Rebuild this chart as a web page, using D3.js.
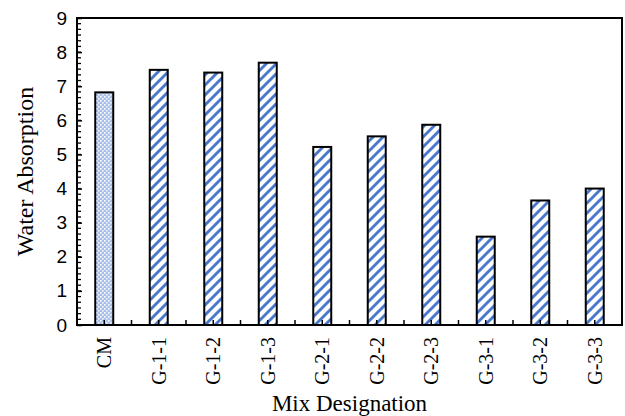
<!DOCTYPE html>
<html>
<head>
<meta charset="utf-8">
<script src="https://cdn.jsdelivr.net/npm/d3@7"></script>
<style>
  html, body { margin: 0; padding: 0; background: #fff; }
  svg { display: block; font-family: "Liberation Serif", "Times New Roman", serif; }
</style>
</head>
<body>
<svg id="chart" width="625" height="416"></svg>
<script>
// Water absorption per mix designation
const categories = ["CM", "G-1-1", "G-1-2", "G-1-3", "G-2-1", "G-2-2", "G-2-3", "G-3-1", "G-3-2", "G-3-3"];
const absorption = [6.82, 7.48, 7.40, 7.69, 5.22, 5.53, 5.87, 2.59, 3.65, 4.00];
const yTicks = [0, 1, 2, 3, 4, 5, 6, 7, 8, 9];

const margin = { left: 77, right: 3, top: 18, bottom: 91 };
const W = 625, H = 416;
const svg = d3.select("#chart");

const x = d3.scaleBand().domain(categories).range([margin.left, W - margin.right]);
const y = d3.scaleLinear().domain([0, 9]).range([H - margin.bottom, margin.top]);

// Fill patterns: light dotted cross-hatch for the control mix, diagonal stripes for the rest
const defs = svg.append("defs");
const dots = defs.append("pattern").attr("id", "dots")
  .attr("patternUnits", "userSpaceOnUse").attr("width", 4).attr("height", 4);
dots.append("rect").attr("width", 4).attr("height", 4).attr("fill", "#a8bfea");
dots.append("rect").attr("x", 0).attr("y", 0).attr("width", 1.6).attr("height", 1.6).attr("fill", "#ffffff");
dots.append("rect").attr("x", 2).attr("y", 2).attr("width", 1.6).attr("height", 1.6).attr("fill", "#f2f5fc");

const stripes = defs.append("pattern").attr("id", "stripes")
  .attr("patternUnits", "userSpaceOnUse").attr("width", 10).attr("height", 10);
stripes.append("rect").attr("width", 10).attr("height", 10).attr("fill", "#ffffff");
stripes.append("path")
  .attr("d", "M-3,3 L3,-3 M0,10 L10,0 M7,13 L13,7")
  .attr("stroke", "#4a78cc").attr("stroke-width", 2.9);

// Bars
const barW = x.bandwidth() * 0.33;
svg.append("g").selectAll("rect").data(categories).join("rect")
  .attr("x", d => x(d) + (x.bandwidth() - barW) / 2)
  .attr("y", (d, i) => y(absorption[i]))
  .attr("width", barW)
  .attr("height", (d, i) => y(0) - y(absorption[i]))
  .attr("fill", (d, i) => i === 0 ? "url(#dots)" : "url(#stripes)")
  .attr("stroke", "#000").attr("stroke-width", 2);

// Y axis: major ticks labelled, minor ticks drawn inward
const yAxis = d3.axisLeft(y).tickValues(yTicks).tickSize(-5).tickPadding(10).tickFormat(d3.format("d"));
const gy = svg.append("g").attr("transform", `translate(${margin.left},0)`).call(yAxis);
gy.select(".domain").remove();
gy.selectAll("text").attr("font-size", 19).attr("fill", "#000");
gy.selectAll("line").attr("stroke", "#000").attr("stroke-width", 1.5);
const minor = d3.range(0, 9.0001, 1 / 6);
svg.append("g").selectAll("line").data(minor).join("line")
  .attr("x1", margin.left).attr("x2", margin.left + 4)
  .attr("y1", d => y(d)).attr("y2", d => y(d))
  .attr("stroke", "#000").attr("stroke-width", 1.3);

// X axis ticks at band edges and centres, pointing inward
const xTickPos = d3.range(0, categories.length * 2 + 1).map(k => margin.left + k * x.bandwidth() / 2);
svg.append("g").selectAll("line").data(xTickPos).join("line")
  .attr("x1", d => d).attr("x2", d => d)
  .attr("y1", y(0)).attr("y2", y(0) - 5)
  .attr("stroke", "#000").attr("stroke-width", 1.5);

// X category labels rotated
svg.append("g").selectAll("text").data(categories).join("text")
  .attr("transform", d => `translate(${x(d) + x.bandwidth() / 2 + 7},${y(0) + 12}) rotate(-90)`)
  .attr("text-anchor", "end")
  .attr("font-size", 20)
  .attr("fill", "#000")
  .text(d => d);

// Plot frame
svg.append("rect")
  .attr("x", margin.left).attr("y", margin.top)
  .attr("width", W - margin.right - margin.left).attr("height", y(0) - margin.top)
  .attr("fill", "none").attr("stroke", "#000").attr("stroke-width", 2);

// Axis titles
svg.append("text")
  .attr("x", (margin.left + W - margin.right) / 2).attr("y", 411)
  .attr("text-anchor", "middle").attr("font-size", 23).attr("fill", "#000")
  .text("Mix Designation");
svg.append("text")
  .attr("transform", `translate(33,${(margin.top + y(0)) / 2}) rotate(-90)`)
  .attr("text-anchor", "middle").attr("font-size", 24).attr("fill", "#000")
  .text("Water Absorption");
</script>
</body>
</html>
